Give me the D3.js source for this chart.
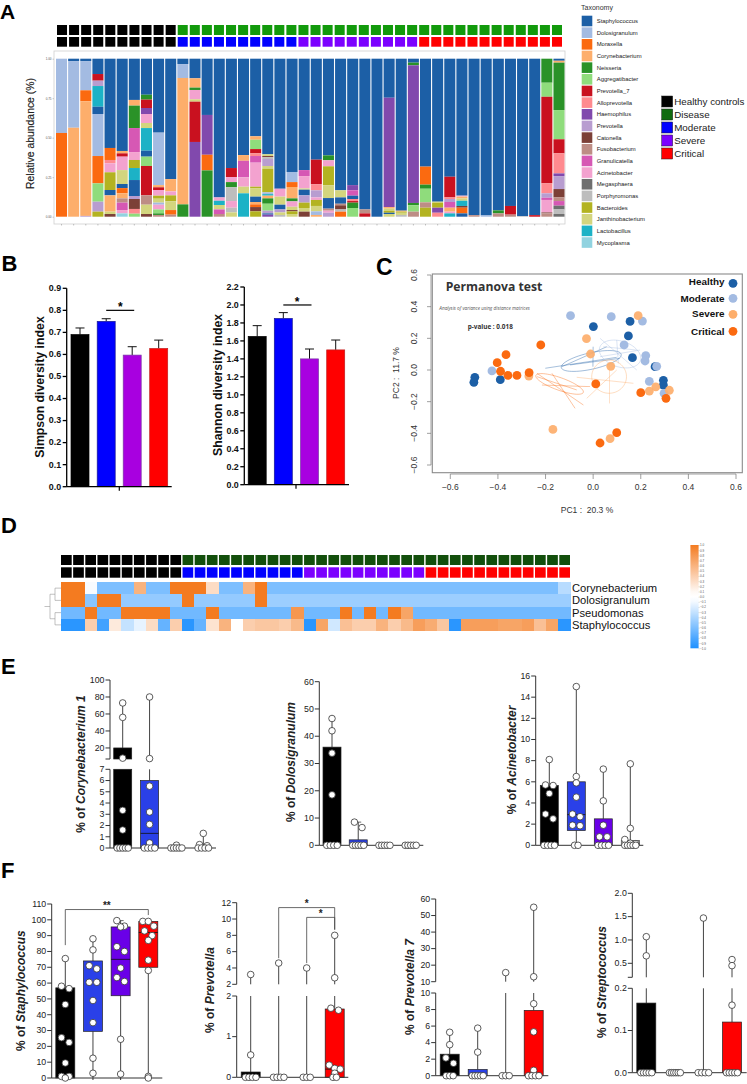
<!DOCTYPE html>
<html><head><meta charset="utf-8">
<script src="https://cdn.jsdelivr.net/npm/d3@7/dist/d3.min.js"></script>
<style>
html,body{margin:0;padding:0;background:#fff}
svg{display:block}
text{font-family:"Liberation Sans",Arial,sans-serif}
</style></head><body><div id="c"></div>
<script>
// ---------- Panel A data ----------
const taxa=["Staphylococcus","Dolosigranulum","Moraxella","Corynebacterium","Neisseria","Aggregatibacter","Prevotella_7","Alloprevotella","Haemophilus","Prevotella","Catonella","Fusobacterium","Granulicatella","Acinetobacter","Megasphaera","Porphyromonas","Bacteroides","Janthinobacterium","Lactobacillus","Mycoplasma"];
const taxaColors=["#1c5fa6","#a3bbe2","#fb6a10","#fdae6b","#2a9228","#8fdc7c","#c9111f","#ff8a8f","#8149ad","#b89dd0","#7c4037","#bd8d85","#d658b4","#f3a2cf","#6f6f6f","#bdbdbd","#b3b321","#d3d57e","#1cb2c6","#91d3e0"];
// each sample: [taxon index, lower edge in %] listed from the top of the bar down
const sampleStacks=[
[[1,53],[2,0]],
[[0,98.5],[1,56.3],[3,0]],
[[0,98.5],[1,80],[2,73],[3,.5],[9,0]],
[[0,90.3],[6,86.1],[9,82.7],[18,69.6],[0,65],[1,38.4],[2,21.1],[5,9.5],[9,3.2],[16,0]],
[[0,43.5],[2,35.9],[7,33.8],[13,28.1],[16,16.9],[0,13.5],[3,3.2],[17,1.7],[10,0]],
[[0,41.6],[3,40.1],[6,38],[13,29.5],[17,20.7],[0,18.1],[2,14.8],[3,11.6],[11,8.9],[12,4.2],[13,2.1],[19,0]],
[[0,73.9],[3,70.3],[4,56.1],[12,40.9],[13,35.9],[16,30.8],[18,23.2],[0,13.1],[9,11.2],[10,4.9],[7,1.9],[5,0]],
[[0,77.2],[4,74.1],[6,68.8],[8,65],[13,59.3],[17,56.1],[18,41.8],[0,38],[5,32.1],[6,13.5],[11,7.6],[17,1.7],[10,0]],
[[0,53.2],[1,20],[3,18.6],[6,16.9],[13,13.3],[16,11.4],[17,8.9],[1,7.6],[13,4.6],[5,2.1],[4,1.1],[11,0]],
[[0,23.8],[3,16],[13,13.5],[16,9.7],[17,4.2],[2,1.3],[11,0]],
[[0,96.6],[1,87.8],[3,7.8],[4,0]],
[[0,87.6],[3,81.7],[4,80.2],[13,74.3],[17,72.8],[6,47.3],[8,0]],
[[0,64.4],[8,39.2],[2,29.3],[4,0]],
[[0,12.2],[13,10.1],[18,7.4],[17,4.6],[12,1.7],[11,0]],
[[0,30.8],[6,25.1],[13,21.9],[4,18.6],[15,9.9],[13,5.7],[15,2.7],[17,0]],
[[0,39],[3,35.4],[12,24.9],[13,19],[17,14.8],[18,0]],
[[0,50.9],[3,48.7],[5,42.8],[6,40.1],[7,38.4],[12,34.2],[13,19],[16,18.1],[17,12.7],[0,9.3],[3,7.8],[2,6.1],[10,3.4],[16,0]],
[[0,39.5],[17,38.4],[10,37.6],[15,36.5],[9,32.1],[17,30.4],[16,15.4],[1,14.3],[18,13.3],[3,11.6],[4,8.2],[5,3.8],[9,2.1],[0,1.3],[8,0]],
[[0,17.7],[13,12.7],[17,7.6],[0,4.6],[9,2.7],[17,1.1],[15,0]],
[[0,28.3],[1,21.9],[2,18.8],[3,11.6],[4,9.7],[13,6.3],[17,4.2],[10,3.4],[16,1.7],[17,0]],
[[0,29.5],[12,25.7],[13,17.9],[17,17.1],[0,13.5],[9,8.9],[16,5.5],[17,3.2],[10,0]],
[[0,36.1],[6,20.5],[7,16.7],[9,12.2],[13,10.6],[16,6.8],[17,3.4],[1,1.1],[3,0]],
[[0,38.8],[4,35.7],[13,31.9],[16,19.8],[17,11.8],[0,5.1],[11,3.8],[13,2.5],[9,0]],
[[0,16.7],[17,12.2],[0,8.2],[11,7.2],[10,4.6],[15,3.2],[2,0]],
[[0,20],[8,16.7],[12,13.3],[0,11.2],[7,9.9],[6,8.9],[4,5.5],[5,0]],
[[0,4.6],[11,2.1],[6,0]],
[[0,0]],
[[0,75.3],[8,6.1],[3,5.1],[17,3.8],[16,2.5],[0,1.7],[17,0]],
[[0,3.8],[3,3.2],[16,2.5],[17,1.1],[15,0]],
[[0,97.5],[4,95.8],[8,8.7],[4,7.2],[5,3.2],[11,0]],
[[0,31.7],[2,20.3],[4,17.7],[5,9.1],[11,5.7],[16,0]],
[[0,9.5],[17,8.7],[16,5.7],[8,2.5],[7,0]],
[[0,25.3],[6,12.2],[7,11.2],[9,9.3],[12,5.7],[3,3.2],[13,2.1],[18,0]],
[[0,13.3],[13,12.7],[3,11.6],[17,10.1],[18,6.8],[10,5.7],[2,2.1],[0,0]],
[[0,1],[11,0]],
[[0,.8],[1,0]],
[[0,4],[4,2.1],[11,0]],
[[0,6.8],[6,1.3],[11,0]],
[[0,.4],[15,0]],
[[0,1],[6,0]],
[[4,84.8],[5,75.9],[6,21.1],[7,14.8],[9,12],[12,10.6],[13,2.7],[10,2.1],[11,0]],
[[0,98.7],[3,97.5],[4,67.5],[5,49],[6,40.1],[7,27.4],[8,25.7],[9,17.5],[10,12.2],[11,9.9],[12,7],[14,4.6],[15,1.7],[14,0]]
];
const severityRow=[...Array(10).fill("h"),...Array(10).fill("m"),...Array(10).fill("s"),...Array(12).fill("c")];
const diseaseRow=[...Array(10).fill("h"),...Array(32).fill("d")];
const groupLegend=["Healthy controls","Disease","Moderate","Severe","Critical"];
const groupLegendColors=["#000000","#116b10","#0000ff","#7b00ff","#ff0000"];
// ---------- Panel B data ----------
const simpsonMeans=[.69,.75,.597,.627], simpsonTops=[.72,.762,.635,.665];
const shannonMeans=[1.65,1.85,1.40,1.50], shannonTops=[1.77,1.915,1.51,1.61];
// ---------- Panel C data ----------
const healthyPts=[[-.497,-.046],[-.501,-.078],[-.39,-.061],[.001,.274],[.155,.307],[.148,.215],[.165,.078],[.26,.021],[.295,-.065],[.295,-.095]];
const moderatePts=[[-.095,.343],[.076,.337],[.207,.309],[.13,.158],[.221,.091],[.218,.057],[.267,.023],[.236,-.072],[.298,-.147],[-.425,-.006]];
const severePts=[[.189,.343],[-.028,.198],[-.011,.101],[.074,.023],[-.27,-.038],[.263,-.107],[.236,-.133],[.32,-.128],[-.169,-.375],[.071,-.434]];
const criticalPts=[[-.403,.046],[-.366,.097],[-.389,-.008],[-.358,-.034],[-.32,-.034],[-.269,-.017],[-.22,.158],[.011,-.088],[.2,-.143],[.306,-.179],[.099,-.396],[.029,-.461]];
const pcoaEllipses=[ // cx, cy, rx, ry, slope
[-.008,.057,.126,.053,.31],[.113,.101,.087,.084,-.3],[.067,-.042,.073,.105,0],[-.141,-.088,.1,.042,-.5]];
const pcoaSegments=[
[[-.201,.011,.099,.08],[-.131,.021,.057,.147],[-.097,.032,.113,.074],[0,.147,-.001,.021]],
[[.029,.2,.183,0],[.099,.189,.106,.042],[.029,.084,.197,.126],[.043,.147,.183,.126]],
[[-.069,-.046,.169,-.084],[-.027,-.179,.099,0],[.069,.032,.069,-.211]],
[[-.236,-.021,-.041,-.221],[-.173,-.021,-.076,-.242],[-.215,-.095,-.013,-.105],[-.236,-.042,-.069,-.126]]];
// ---------- Panel D data ----------
const heatRows=["Corynebacterium","Dolosigranulum","Pseudomonas","Staphylococcus"];
const corVals=[1,1,-.08,-.6,-.6,-.6,.6,-.6,-.6,1,1,1,.3,-.6,-.6,.6,1,-.6,-.6,-.6,-.6,-.6,-.6,-.6,-.6,-.6,-.6,-.6,-.6,-.6,-.6,-.6,-.6,-.6,-.6,-.6,-.6,-.6,-.6,-.6,-.6,-.35];
const dolVals=[1,1,-.55,1,1,-.5,-.5,-.5,-.5,-.5,1,-.5,-.5,-.5,-.5,-.5,1,-.47,-.47,-.47,-.47,-.47,-.47,-.47,-.47,-.47,-.47,-.47,-.47,-.47,-.47,-.47,-.47,-.47,-.47,-.47,-.47,-.47,-.47,-.47,-.47,-.47];
const pseVals=[-.65,-.65,1,-.65,-.65,1,1,1,1,-.65,-.65,-.65,1,-.65,-.65,-.65,-.65,-.65,-.65,.8,-.65,-.65,-.65,1,-.65,1,-.65,1,.7,-.65,-.65,-.65,-.65,-.65,-.65,-.65,-.65,-.65,-.65,-.65,-.65,-.65];
const staVals=[-.95,-.95,.4,-.85,.2,-.3,-.15,.3,-.7,.4,-.95,-.7,.25,.6,.03,.4,.45,.45,.4,.55,-.95,.7,-.25,.5,.4,.4,.6,.4,.55,.75,.65,.45,-.95,.75,.75,.75,.7,.7,.75,.5,.7,-.95];
const scaleTicks=[1,.9,.8,.7,.6,.5,.4,.3,.2,.1,0,-.1,-.2,-.3,-.4,-.5,-.6,-.7,-.8,-.9,-1];
// ---------- Panels E/F data ----------
const e1Pts=[[73,56,8,3.35,1.6,0,0,0,0,0],[80,7.5,5.5,3.2,2.1,.45,0,0,0,0],[.25,0,0,0,0,0],[1.3,.3,.2,0,0,0,0]];
const e1Box=[[0,20,null],[0,6,1.3],null,null];
const e2Pts=[[46.5,42,33.8,18.5,0,0,0,0],[8.5,6.5,0,0,0,0,0],[0,0,0,0,0],[0,0,0,0,0]];
const e2Box=[[0,36,null],[0,2,null],null,null];
const e3Pts=[[8.1,5.7,5.65,4.9,2.95,2.5,0,0,0,0],[15,6.5,5.9,4.55,2.95,2.7,1.9,1.85,0,0],[7.2,4.2,1.9,.8,.8,0,0,0,0],[7.7,1.6,.55,.2,.15,0,0,0,0,0]];
const e3Box=[[0,5.65,null],[1.4,6,2.9],[0,2.5,null],[0,.45,null]];
const f1Pts=[[75.5,58,56.5,46.5,25.5,22.5,9.5,1,1,0],[88,81,71,69,60.5,60.5,49,35,12.5,3],[99.5,96,95.5,83,80,69.5,63.5,61,24.5,2.5],[99,99,96,93,90,87,74.5,68,1,0]];
const f1Box=[[0,57,null],[29.5,74,null],[52,95.5,75],[70,99,92]];
const f2Pts=[[3.2,.55,0,0,0,0],[4.6,0,0,0,0],[4,0,0,0],[8,2.8,1.7,1.65,.3,.22,.2,.1,0,0]];
const f2Box=[[0,.13,null],null,null,[0,1.68,.2]];
const f3Pts=[[5.25,3.75,2.15,1.5,0,0,0],[5.75,2.85,0,0,0,0,0],[15.5,0,0,0],[55,13,8.7,5.3,.65,0,0,0,0]];
const f3Box=[[0,2.6,null],[0,.75,null],null,[0,7.9,null]];
const f4Pts=[[1.07,.66,0,0,0,0,0],[0,0,0,0,0,0],[1.47,0,0,0,0],[.58,.45,.16,0,0,0,0,0]];
const f4Box=[[0,.165,null],null,null,[0,.12,null]];
const dotColors=["#000000","#2a40e8","#6a00e8","#ff0000"];

const svg=d3.select("#c").append("svg").attr("width",747).attr("height",1084);
const panelLetter=(t,x,y,s=22)=>svg.append("text").attr("x",x).attr("y",y).attr("font-size",s).attr("font-weight",700).attr("fill","#000").text(t);
panelLetter("A",0,19.2,21);panelLetter("B",1.5,271);panelLetter("C",376,275,23);panelLetter("D",1,533);panelLetter("E",1,674);panelLetter("F",1,878);

function tileRow(values,colors,x0,x1,y0,y1,pad){
  const x=d3.scaleBand().domain(d3.range(values.length)).range([x0,x1]).paddingInner(pad);
  svg.append("g").selectAll("rect").data(values).join("rect")
    .attr("x",(d,i)=>x(i)).attr("y",y0).attr("width",x.bandwidth()).attr("height",y1-y0).attr("fill",d=>colors[d]);
}
// ---------- Panel A ----------
(function(){
  const tileA={h:"#000000",d:"#129a0c",m:"#0000ff",s:"#7b00ff",c:"#ff0000"};
  tileRow(diseaseRow,tileA,57,562,25,35,.17);
  tileRow(severityRow,tileA,57,562,37,46.7,.17);
  svg.append("rect").attr("x",54).attr("y",51).attr("width",511).attr("height",173).attr("fill","#fff").attr("stroke","#cfcfcf").attr("stroke-width",.8);
  const x=d3.scaleBand().domain(d3.range(sampleStacks.length)).range([56,564.5]).paddingInner(.09);
  const y=d3.scaleLinear().domain([0,100]).range([216.7,58.7]);
  const g=svg.append("g");
  sampleStacks.forEach((segs,i)=>{
    let top=100;
    segs.forEach(([t,low])=>{
      g.append("rect").attr("x",x(i)).attr("width",x.bandwidth()).attr("y",y(top)).attr("height",y(low)-y(top)).attr("fill",taxaColors[t]);
      top=low;
    });
  });
  const ax=svg.append("g").attr("transform","translate(54,0)").call(d3.axisLeft(y).tickValues([0,25,50,75,100]).tickSize(1.5).tickPadding(1).tickFormat(v=>d3.format(".2f")(v/100)));
  ax.select(".domain").remove();ax.selectAll("text").attr("font-size",3).attr("fill","#555");ax.selectAll("line").attr("stroke","#888").attr("stroke-width",.4);
  const bx=svg.append("g").attr("transform","translate(0,224)").call(d3.axisBottom(x).tickSize(1.5).tickFormat(""));
  bx.select(".domain").remove();bx.selectAll("line").attr("stroke","#888").attr("stroke-width",.5);
  svg.append("text").attr("transform","translate(34,133.5) rotate(-90)").attr("text-anchor","middle").attr("font-size",10.4).attr("fill","#222").attr("stroke","#222").attr("stroke-width",.15).text("Relative abundance (%)");
  // taxonomy legend
  svg.append("text").attr("x",581).attr("y",10.3).attr("font-size",7).attr("fill","#333").text("Taxonomy");
  const lg=svg.append("g").selectAll("g").data(taxa).join("g").attr("transform",(d,i)=>`translate(581.7,${15.7+i*11.66})`);
  lg.append("rect").attr("width",10.6).attr("height",10.6).attr("fill",(d,i)=>taxaColors[i]);
  lg.append("text").attr("x",15).attr("y",5.3).attr("dy",".35em").attr("font-size",5.9).attr("fill","#222").text(d=>d);
  // group legend
  const gl=svg.append("g").selectAll("g").data(groupLegend).join("g").attr("transform",(d,i)=>`translate(661.7,${96+i*13})`);
  gl.append("rect").attr("width",11).attr("height",11).attr("fill",(d,i)=>groupLegendColors[i]).attr("stroke","#222").attr("stroke-width",.5);
  gl.append("text").attr("x",12.5).attr("y",5.7).attr("dy",".35em").attr("font-size",9.8).attr("fill","#222").text(d=>d);
})();
// ---------- Panel B ----------
function diversity(o){
  const colors=["#000000","#0000ff","#a800e0","#ff0000"];
  const fills=d3.range(4);
  const x=d3.scaleOrdinal().domain(fills).range(o.centers);
  const y=d3.scaleLinear().domain([0,o.max]).range([o.y0,o.y1]);
  const g=svg.append("g");
  g.selectAll("line.e").data(o.tops).join("line").attr("x1",(d,i)=>x(i)).attr("x2",(d,i)=>x(i)).attr("y1",(d,i)=>y(o.means[i])).attr("y2",d=>y(d)).attr("stroke","#111").attr("stroke-width",1);
  g.selectAll("line.c").data(o.tops).join("line").attr("x1",(d,i)=>x(i)-4.5).attr("x2",(d,i)=>x(i)+4.5).attr("y1",d=>y(d)).attr("y2",d=>y(d)).attr("stroke","#111").attr("stroke-width",1);
  g.selectAll("rect").data(o.means).join("rect").attr("x",(d,i)=>x(i)-9).attr("width",18).attr("y",d=>y(d)).attr("height",d=>y(0)-y(d)).attr("fill",(d,i)=>colors[i]).attr("stroke",(d,i)=>i==2?"#7a3aa5":i==3?"#c02020":i==1?"#1a1a90":"#000").attr("stroke-width",.7);
  const ax=svg.append("g").attr("transform",`translate(${o.ax},0)`).call(d3.axisLeft(y).tickValues(d3.range(0,o.max+.001,o.step)).tickSize(4).tickSizeOuter(0).tickPadding(1.5).offset(0).tickFormat(d3.format(".1f")));
  ax.selectAll("path,line").attr("stroke","#000").attr("stroke-width",1.3);
  ax.selectAll("text").attr("font-size",8.9).attr("font-weight",700).attr("fill","#111");
  svg.append("line").attr("x1",o.ax).attr("x2",o.end).attr("y1",y(0)).attr("y2",y(0)).attr("stroke","#000").attr("stroke-width",1.3);
  svg.append("line").attr("x1",o.tick).attr("x2",o.tick).attr("y1",y(0)).attr("y2",y(0)+4).attr("stroke","#000").attr("stroke-width",1.2);
  svg.append("line").attr("x1",x(1)).attr("x2",x(2)+2).attr("y1",y(o.sig)).attr("y2",y(o.sig)).attr("stroke","#000").attr("stroke-width",1.2);
  svg.append("text").attr("x",o.tick+1).attr("y",y(o.sig)+1).attr("text-anchor","middle").attr("font-size",12).attr("font-weight",700).text("*");
  svg.append("text").attr("transform",`translate(${o.lx},${o.ly}) rotate(-90)`).attr("text-anchor","middle").attr("font-size",12.3).attr("font-weight",700).attr("fill","#111").text(o.title);
}
diversity({means:simpsonMeans,tops:simpsonTops,centers:[80,106.2,132.2,158.7],max:.9,step:.1,y0:486.7,y1:288.3,ax:66.7,end:171.7,tick:119.3,sig:.8,title:"Simpson diversity index",lx:43.5,ly:387});
diversity({means:shannonMeans,tops:shannonTops,centers:[257.2,283.3,309.5,335.7],max:2.2,step:.2,y0:484.7,y1:287,ax:244.3,end:349,tick:296,sig:2.0,title:"Shannon diversity index",lx:221.5,ly:385});
// ---------- Panel C ----------
(function(){
  const x=d3.scaleLinear().domain([-.6,.6]).range([450.3,736]);
  const y=d3.scaleLinear().domain([-.6,.6]).range([465,275]);
  svg.append("rect").attr("x",432.3).attr("y",274).attr("width",310).attr("height",198.7).attr("fill","#fff").attr("stroke","#8a8a8a").attr("stroke-width",1.1);
  const ax=svg.append("g").attr("transform","translate(0,474)").call(d3.axisBottom(x).tickValues([-.6,-.4,-.2,0,.2,.4,.6]).tickSize(5).tickSizeOuter(0).tickPadding(5).offset(0).tickFormat(d3.format(".1f")));
  ax.selectAll("path,line").attr("stroke","#777").attr("stroke-width",.7);
  ax.selectAll("text").attr("font-size",8.5).attr("fill","#333");
  const ay=svg.append("g").attr("transform","translate(431,0)").call(d3.axisLeft(y).tickValues([-.6,-.4,-.2,0,.2,.4,.6]).tickSize(4).tickSizeOuter(0).offset(0).tickFormat(d3.format(".1f")));
  ay.selectAll("path,line").attr("stroke","#777").attr("stroke-width",.7);
  ay.selectAll("text").attr("font-size",8.5).attr("fill","#333").attr("text-anchor","middle").attr("dy",0).attr("x",0).attr("y",0)
    .attr("transform",function(d){return `translate(-14,0) rotate(-90)`});
  const colors=["#1c5fa6","#a3bbe2","#fdae6b","#fb6a10"];
  const line=d3.line().x(d=>x(d[0])).y(d=>y(d[1])).curve(d3.curveLinearClosed);
  pcoaEllipses.forEach((e,i)=>{
    const [cx,cy,rx,ry,k]=e;
    const pts=d3.range(0,Math.PI*2,.1).map(t=>{const dx=rx*Math.cos(t);return [cx+dx,cy+ry*Math.sin(t)+k*dx];});
    svg.append("path").attr("d",line(pts)).attr("fill","none").attr("stroke",colors[i]).attr("stroke-width",.7).attr("opacity",.6);
    pcoaSegments[i].forEach(s=>svg.append("line").attr("x1",x(s[0])).attr("y1",y(s[1])).attr("x2",x(s[2])).attr("y2",y(s[3])).attr("stroke",colors[i]).attr("stroke-width",.7).attr("opacity",.55));
  });
  [healthyPts,moderatePts,severePts,criticalPts].forEach((pts,i)=>{
    svg.append("g").selectAll("circle").data(pts).join("circle").attr("cx",d=>x(d[0])).attr("cy",d=>y(d[1])).attr("r",4.4).attr("fill",colors[i]).attr("opacity",i==2?.92:1);
  });
  svg.append("text").attr("x",445.7).attr("y",290.7).attr("font-size",12.2).attr("font-weight",700).attr("fill","#333").style("font-family","'Open Sans'").text("Permanova test");
  svg.append("text").attr("x",439.3).attr("y",309.5).attr("font-size",4.7).attr("font-style","italic").attr("fill","#555").style("font-family","'Open Sans'").text("Analysis of variance using distance matrices");
  svg.append("text").attr("x",467.7).attr("y",328.5).attr("font-size",6.4).attr("font-weight",700).attr("fill","#333").style("font-family","'Open Sans'").text("p-value : 0.018");
  const names=["Healthy","Moderate","Severe","Critical"],ty=[281.7,298.3,313.7,331.7],dy=[283.3,298.3,314.3,331.3];
  names.forEach((n,i)=>{
    svg.append("text").attr("x",724.5).attr("y",ty[i]).attr("dy",".35em").attr("text-anchor","end").attr("font-size",9.9).attr("font-weight",700).attr("fill","#111").text(n);
    svg.append("circle").attr("cx",733).attr("cy",dy[i]).attr("r",4.4).attr("fill",colors[i]);
  });
  svg.append("text").attr("x",587).attr("y",513).attr("text-anchor","middle").attr("font-size",8.5).attr("fill","#333").style("white-space","pre").text("PC1 :  20.3 %");
  svg.append("text").attr("transform","translate(398.5,373) rotate(-90)").attr("text-anchor","middle").attr("font-size",8.5).attr("fill","#333").style("white-space","pre").text("PC2 :  11.7 %");
})();
// ---------- Panel D ----------
(function(){
  const tileD={h:"#000000",d:"#134f0c",m:"#0000ff",s:"#7b00ff",c:"#ff0000"};
  tileRow(diseaseRow,tileD,61,570,555,565,.12);
  tileRow(severityRow,tileD,61,570,567.3,577.7,.12);
  const color=d3.scaleLinear().domain([-1,-.05,.05,1]).range(["#1e90ff","#ffffff","#ffffff","#f47b20"]);
  const x=d3.scaleBand().domain(d3.range(42)).range([60.8,570.5]);
  const y=d3.scaleBand().domain(heatRows).range([582,631]);
  [corVals,dolVals,pseVals,staVals].forEach((vals,r)=>{
    svg.append("g").attr("shape-rendering","crispEdges").selectAll("rect").data(vals).join("rect").attr("x",(d,i)=>x(i)).attr("y",y(heatRows[r])).attr("width",x.bandwidth()+.6).attr("height",y.bandwidth()+.3).attr("fill",d=>color(d));
    svg.append("text").attr("x",572).attr("y",y(heatRows[r])+y.bandwidth()/2).attr("dy",".35em").attr("font-size",11.2).attr("fill","#111").text(heatRows[r]);
  });
  const mid=d=>y(heatRows[d])+y.bandwidth()/2;
  const m1=(mid(0)+mid(1))/2,m2=(mid(2)+mid(3))/2,root=(m1+m2)/2;
  const path=`M44.5,${root}H50M50,${m1}V${m2}M50,${m1}H55M50,${m2}H55M55,${mid(0)}V${mid(1)}M55,${mid(2)}V${mid(3)}M55,${mid(0)}H61M55,${mid(1)}H61M55,${mid(2)}H61M55,${mid(3)}H61`;
  svg.append("path").attr("d",path).attr("fill","none").attr("stroke","#999").attr("stroke-width",.6);
  // colour scale
  const cy=d3.scaleLinear().domain([-1,1]).range([648.3,545]);
  const defs=svg.append("defs").append("linearGradient").attr("id","hm").attr("x1",0).attr("x2",0).attr("y1",1).attr("y2",0);
  d3.range(-1,1.001,.1).forEach(v=>defs.append("stop").attr("offset",(v+1)/2).attr("stop-color",color(v)));
  svg.append("rect").attr("x",690.4).attr("y",545).attr("width",8.2).attr("height",103.3).attr("fill","url(#hm)");
  const a=svg.append("g").attr("transform","translate(698.6,0)").call(d3.axisRight(cy).tickValues(scaleTicks).tickSize(1).tickPadding(.5).tickFormat(d3.format(".1f")));
  a.select(".domain").remove();a.selectAll("line").attr("stroke","#777").attr("stroke-width",.3);
  a.selectAll("text").attr("font-size",3).attr("fill","#555");
})();
// ---------- Panels E/F ----------
function dotPanel(o){
  const x=d3.scalePoint().domain(d3.range(4)).range(o.gx);
  const segs=o.segs.map(s=>({...s,scale:d3.scaleLinear().domain(s.domain).range(s.range)}));
  const y=v=>{for(const s of segs){if(v<=s.domain[1])return s.scale(v);}return segs[segs.length-1].scale(v);};
  const cut=(a,b)=>segs.map(s=>{const lo=Math.max(a,s.domain[0]),hi=Math.min(b,s.domain[1]);return hi>lo?[s,lo,hi]:null;}).filter(Boolean);
  const g=svg.append("g");
  const bw=o.bw||18;
  o.pts.forEach((vals,i)=>{
    const top=d3.max(vals),box=o.box[i];
    const bot=box?box[0]:0,btop=box?box[1]:0;
    const wh=(a,b)=>cut(a,b).forEach(([s,lo,hi])=>g.append("line").attr("x1",x(i)).attr("x2",x(i)).attr("y1",s.scale(lo)).attr("y2",s.scale(hi)).attr("stroke","#444").attr("stroke-width",1));
    if(top>btop)wh(btop,top);
    if(bot>0)wh(0,bot);
    if(top>btop)g.append("line").attr("x1",x(i)-3).attr("x2",x(i)+3).attr("y1",y(top)).attr("y2",y(top)).attr("stroke","#444").attr("stroke-width",.8);
    if(box){
      cut(box[0],box[1]).forEach(([s,lo,hi])=>g.append("rect").attr("x",x(i)-bw/2).attr("width",bw).attr("y",s.scale(hi)).attr("height",s.scale(lo)-s.scale(hi))
        .attr("fill",o.hollow&&o.hollow[i]?"none":o.colors[i]).attr("stroke",o.hollow&&o.hollow[i]?"#333":"#222").attr("stroke-width",.7));
      if(box[2]!==null)g.append("line").attr("x1",x(i)-bw/2).attr("x2",x(i)+bw/2).attr("y1",y(box[2])).attr("y2",y(box[2])).attr("stroke","#111").attr("stroke-width",.8);
    }
  });
  segs.forEach(s=>{
    const a=svg.append("g").attr("transform",`translate(${o.ax},0)`).call(d3.axisLeft(s.scale).tickValues(s.ticks).tickSize(4.5).tickSizeOuter(0).tickPadding(1).offset(0).tickFormat(v=>(s.blank&&s.blank.includes(v))?"":(o.fmt?o.fmt(v):v)));
    a.selectAll("path,line").attr("stroke","#333").attr("stroke-width",1);
    a.selectAll("text").attr("font-size",o.fs||8.8).attr("fill","#222");
  });
  const b=svg.append("g").attr("transform",`translate(0,${y(0)})`).call(d3.axisBottom(x).tickSize(2).tickSizeOuter(0).tickFormat("").offset(0));
  b.select(".domain").remove();b.selectAll("line").attr("stroke","#333");
  svg.append("line").attr("x1",o.ax).attr("x2",o.end).attr("y1",y(0)).attr("y2",y(0)).attr("stroke","#333").attr("stroke-width",1);
  (o.brackets||[]).forEach(br=>{
    const d=`M${x(br.a)},${y(br.ya)}V${y(br.top)}H${x(br.b)}V${y(br.yb)}`;
    svg.append("path").attr("d",d).attr("fill","none").attr("stroke","#444").attr("stroke-width",.8);
    svg.append("text").attr("x",(x(br.a)+x(br.b))/2+(br.sx||0)).attr("y",y(br.top)+(br.sy||1)).attr("text-anchor","middle").attr("font-size",10).attr("font-weight",700).attr("fill","#222").text(br.star);
  });
  // points: symmetric spread inside clusters, as GraphPad lays them out
  const pg=svg.append("g");
  o.pts.forEach((vals,i)=>{
    const nz=vals.filter(v=>v>0).sort((a,b)=>b-a),zeros=vals.filter(v=>v===0);
    const place=[];
    let k=0;
    while(k<nz.length){
      let j=k;const y0=y(nz[k]);
      while(j+1<nz.length&&Math.abs(y(nz[j+1])-y0)<5.8)j++;
      const n=j-k+1;
      for(let m=0;m<n;m++)place.push([nz[k+m],(m-(n-1)/2)*(n>2?5.5:7.6)]);
      k=j+1;
    }
    const step=zeros.length>1?Math.min(3.5,11/(zeros.length-1)):0;
    zeros.forEach((v,m)=>place.push([0,(m-(zeros.length-1)/2)*step]));
    pg.selectAll(null).data(place).join("circle").attr("cx",d=>x(i)+d[1]).attr("cy",d=>y(d[0])).attr("r",3.3).attr("fill","#fff").attr("stroke","#333").attr("stroke-width",.8);
  });
  const t=svg.append("text").attr("transform",`translate(${o.lx},${o.ly}) rotate(-90)`).attr("text-anchor","middle").attr("font-size",o.lfs||12).attr("font-weight",700).attr("fill","#222");
  t.append("tspan").text("% of ");
  t.append("tspan").attr("font-style","italic").text(o.name);
}
dotPanel({pts:e1Pts,box:e1Box,colors:dotColors,name:"Corynebacterium 1",ax:110,end:216,gx:[122.7,203.3],lx:85,ly:764,
  segs:[{domain:[0,7],range:[848,769.3],ticks:[0,1,2,3,4,5,6,7]},{domain:[7,100],range:[759,680],ticks:[7,20,40,60,80,100],blank:[7]}]});
dotPanel({pts:e2Pts,box:e2Box,colors:dotColors,name:"Dolosigranulum",ax:319.3,end:423.3,gx:[332,410.7],lx:295,ly:762,
  segs:[{domain:[0,60],range:[845.3,681.7],ticks:[0,10,20,30,40,50,60]}]});
dotPanel({pts:e3Pts,box:e3Box,colors:dotColors,name:"Acinetobacter",ax:535.7,end:643.3,gx:[549.3,630.3],lx:516,ly:760,hollow:[0,0,0,1],
  segs:[{domain:[0,16],range:[845.3,676],ticks:[0,2,4,6,8,10,12,14,16]}]});
dotPanel({pts:f1Pts,box:f1Box,colors:dotColors,name:"Staphylococcus",ax:51.7,end:162.3,gx:[65.3,148.3],lx:24.5,ly:990.7,bw:19,
  segs:[{domain:[0,110],range:[1078,904],ticks:d3.range(0,111,10)}],
  brackets:[{a:0,b:3,ya:84,yb:103,top:106.5,star:"**",sy:-1}]});
dotPanel({pts:f2Pts,box:f2Box,colors:dotColors,name:"Prevotella",ax:236.7,end:348.3,gx:[250.7,334.7],lx:213.5,ly:990,bw:19,
  segs:[{domain:[0,2],range:[1077.3,996],ticks:[0,1,2]},{domain:[2,12],range:[984.3,902.7],ticks:[2,4,6,8,10,12]}],
  brackets:[{a:1,b:3,ya:5.2,yb:8.7,top:11.4,star:"*",sx:0,sy:-.2},{a:2,b:3,ya:4.6,yb:8.7,top:10.2,star:"*",sx:0,sy:-.1}]});
dotPanel({pts:f3Pts,box:f3Box,colors:dotColors,name:"Prevotella 7",ax:435.7,end:548.3,gx:[449.7,533.7],lx:413.5,ly:987,bw:19,
  segs:[{domain:[0,10],range:[1075.7,993],ticks:[0,2,4,6,8,10]},{domain:[10,60],range:[981.7,899],ticks:[10,20,30,40,50,60]}]});
dotPanel({pts:f4Pts,box:f4Box,colors:dotColors,name:"Streptococcus",ax:632.3,end:746.7,gx:[646.3,732],lx:606,ly:982,bw:19,fmt:d3.format(".1f"),
  segs:[{domain:[0,.2],range:[1072.7,988.3],ticks:[0,.1,.2]},{domain:[.2,2],range:[977.3,893.3],ticks:[.2,.5,1,1.5,2],blank:[.2]}]});
</script></body></html>
